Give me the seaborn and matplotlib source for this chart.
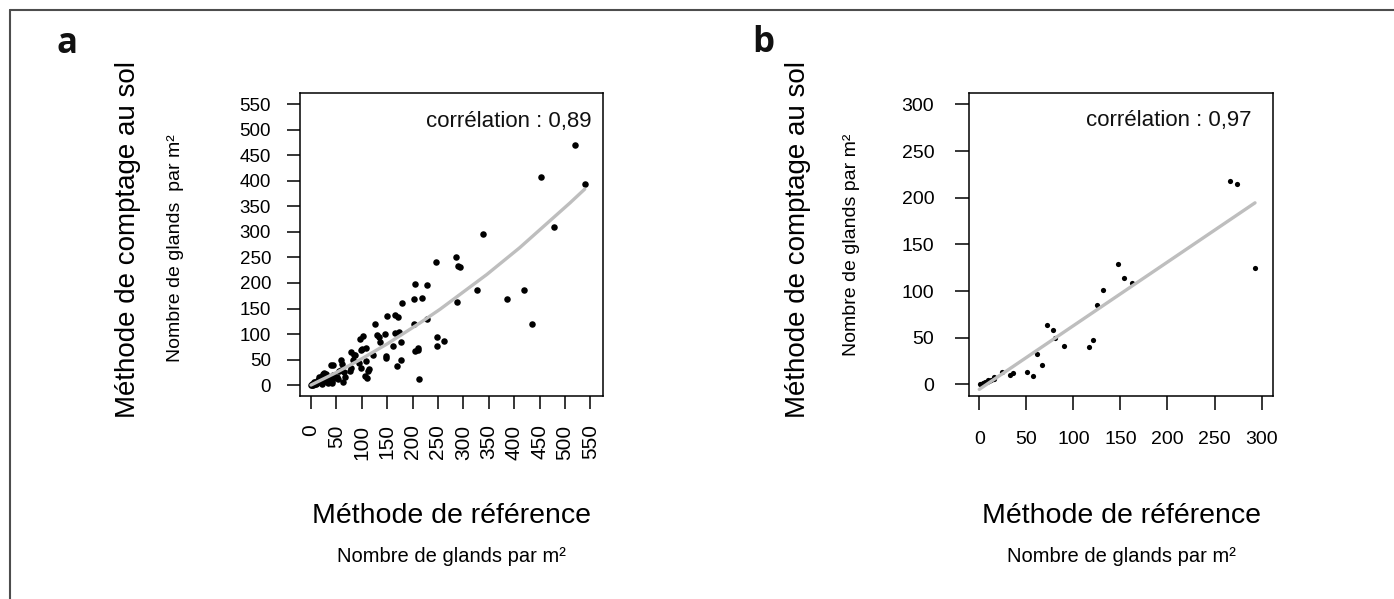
import matplotlib
matplotlib.use("Agg")
import matplotlib.pyplot as plt
import seaborn as sns
import pandas as pd
from matplotlib.lines import Line2D

# ---------------- data ----------------
# Panel a : reference method (x) vs ground counting (y), acorns per m2
a_ref = [519, 539, 452, 478, 338, 290, 285, 293, 247, 327, 288, 386, 419, 436,
         249, 249, 262, 229, 229,
         205, 203, 218, 180, 150, 165, 171, 203, 127, 146, 165, 174, 133, 130,
         102, 96.5, 136, 178, 161, 109, 98, 78, 85, 122, 148, 147.6, 83, 108,
         60, 61, 44, 39, 94.5, 177, 169, 99, 115, 111.5, 78, 77.5, 65.6, 55,
         106, 109.6, 67, 63.6, 50.5, 35.4, 41, 24, 30, 19, 14.4, 8, 1.4, 213,
         211, 205, 211, 87, 100, 60, 42.7, 38, 21, 23, 33, 41, 6, 2.6, 4, 13,
         18, 28, 36, 44, 54, 10, 21, 0, 16, 26, 47, 12, 3, 7]
a_sol = [470, 394, 408, 310, 297, 233, 250, 231, 242, 186, 163, 168, 187, 119.5,
         95, 77, 86, 196, 129,
         199, 168.5, 170, 160, 136, 137, 134, 119, 119, 101, 102, 103, 95, 98,
         97, 89.5, 85, 84, 76, 73, 68.6, 64.7, 58, 58, 57, 53.5, 49, 48,
         49, 42, 40, 39, 43.7, 49, 37, 32.7, 32, 26.8, 32.7, 28, 26, 27,
         18, 13, 16.3, 6.5, 16.3, 12.4, 7.8, 21, 21, 16.3, 9.8, 5.2, 0, 11.8,
         72, 66, 69, 58, 70, 29, 14.4, 16, 18, 6.5, 4.6, 4.6, 6.5, 1.3, 3, 5,
         8.5, 11.8, 13, 20, 11.8, 2, 2, 0, 15, 23, 16, 4, 1, 2.5]

# fitted curve of panel a
a_fit_x = [0, 50, 100, 150, 215, 254, 346, 411, 510, 539]
a_fit_y = [0, 24.6, 51.5, 80.6, 122, 148.4, 216.5, 269.2, 357, 384]

# Panel b
b_ref = [266, 274, 292.6, 147.4, 153.8, 162.6, 131, 125, 121, 116.6, 90.3, 72,
         78.3, 81, 61.6, 67, 50.4, 57.4, 32.6, 36, 24.5, 15.6, 9.6, 4.3, 1,
         2.8, 6, 8, 10, 13, 16]
b_sol = [218, 215, 124.6, 128.6, 113.5, 108.5, 100.7, 85, 48, 40.3, 41.4, 63.5,
         58.5, 50, 32.5, 20.3, 13.2, 9.3, 10.3, 11.8, 12.8, 8.2, 4.6, 1.7, 0,
         0.5, 2.5, 3, 3.5, 4.5, 5.5]

b_fit_x = [0, 293]
b_fit_y = [-5.4, 194.5]

a_ticks = list(range(0, 551, 50))
b_ticks = list(range(0, 301, 50))

ylab_main = "Méthode de comptage au sol"
xlab_main = "Méthode de référence"
ylab_a_sub = "Nombre de glands  par m²"
unit_sub = "Nombre de glands par m²"
corr_a = "corrélation : 0,89"
corr_b = "corrélation : 0,97"

# ---------------- figure ----------------
W, H = 1394, 599
sns.set_theme(style="white")
plt.rcParams['font.family'] = ['Liberation Sans', 'DejaVu Sans']

fig = plt.figure(figsize=(W / 100, H / 100), dpi=100)
fig.patch.set_facecolor("white")


def px_axes(l, t, r, b):
    return fig.add_axes([l / W, 1 - b / H, (r - l) / W, (b - t) / H])


def fx(x):
    return x / W


def fy(y):
    return 1 - y / H


axa = px_axes(299.5, 92.7, 603, 396)
axb = px_axes(969, 92.7, 1272.7, 396)

df_a = pd.DataFrame({"ref": a_ref, "sol": a_sol})
df_b = pd.DataFrame({"ref": b_ref, "sol": b_sol})

sns.scatterplot(data=df_a, x="ref", y="sol", ax=axa, color="black", s=22,
                linewidth=0, zorder=2)
sns.lineplot(x=a_fit_x, y=a_fit_y, ax=axa, color="#bebebe", lw=2.4,
             sort=False, estimator=None, zorder=3)

sns.scatterplot(data=df_b, x="ref", y="sol", ax=axb, color="black", s=14,
                linewidth=0, zorder=2)
sns.lineplot(x=b_fit_x, y=b_fit_y, ax=axb, color="#bebebe", lw=2.4,
             sort=False, estimator=None, zorder=3)

axa.set_xlim(-22.6, 575)
axa.set_ylim(-21.5, 573)
axb.set_xlim(-10.9, 311.8)
axb.set_ylim(-12.5, 312.5)

axa.set_xticks(a_ticks)
axa.set_yticks(a_ticks)
axa.set_xticklabels([str(t) for t in a_ticks], rotation=90)
axa.set_yticklabels([str(t) for t in a_ticks])
axb.set_xticks(b_ticks)
axb.set_yticks(b_ticks)
axb.set_xticklabels([str(t) for t in b_ticks])
axb.set_yticklabels([str(t) for t in b_ticks])

for ax in (axa, axb):
    ax.set_xlabel("")
    ax.set_ylabel("")
    ax.grid(False)
    ax.set_facecolor("white")
    for sp in ax.spines.values():
        sp.set_visible(True)
        sp.set_color("black")
        sp.set_linewidth(1.1)

axa.tick_params(axis="y", direction="out", length=9.5, width=1.1,
                color="black", labelcolor="black", labelsize=13.5, pad=11,
                left=True)
axa.tick_params(axis="x", direction="out", length=9.5, width=1.1,
                color="black", labelcolor="black", labelsize=15, pad=11,
                bottom=True)
axb.tick_params(axis="both", direction="out", length=10, width=1.1,
                color="black", labelcolor="black", labelsize=14, pad=15,
                left=True, bottom=True)

# correlation texts
fig.text(fx(592), fy(126.7), corr_a, ha="right", va="baseline", fontsize=16,
         color="#111111")
fig.text(fx(1252), fy(125.7), corr_b, ha="right", va="baseline", fontsize=16,
         color="#111111")

# axis titles
for cx in (128, 798):
    fig.text(fx(cx), fy(239), ylab_main, rotation=90, ha="center",
             va="center", fontsize=20, color="black")
fig.text(fx(176), fy(248), ylab_a_sub, rotation=90, ha="center", va="center",
         fontsize=14, color="black")
fig.text(fx(851), fy(245), unit_sub, rotation=90, ha="center", va="center",
         fontsize=14, color="black")

for cx in (451, 1121):
    fig.text(fx(cx), fy(523), xlab_main, ha="center", va="baseline",
             fontsize=20.5, color="black")
    fig.text(fx(cx), fy(561.6), unit_sub, ha="center", va="baseline",
             fontsize=14.5, color="black")

# panel letters
fig.text(fx(67), fy(53), "a", ha="center", va="baseline", fontsize=25,
         fontweight="bold", family=["Open Sans", "DejaVu Sans"], color="#111111")
fig.text(fx(763), fy(52), "b", ha="center", va="baseline", fontsize=25,
         fontweight="bold", family=["Open Sans", "DejaVu Sans"], color="#111111")

# partial outer frame (top and left)
fig.add_artist(Line2D([fx(10), 1], [fy(10), fy(10)], transform=fig.transFigure,
                      color="#4d4d4d", lw=1.5))
fig.add_artist(Line2D([fx(10), fx(10)], [0, fy(10)], transform=fig.transFigure,
                      color="#4d4d4d", lw=1.5))

fig.savefig("out.png", dpi=100, facecolor="white")
